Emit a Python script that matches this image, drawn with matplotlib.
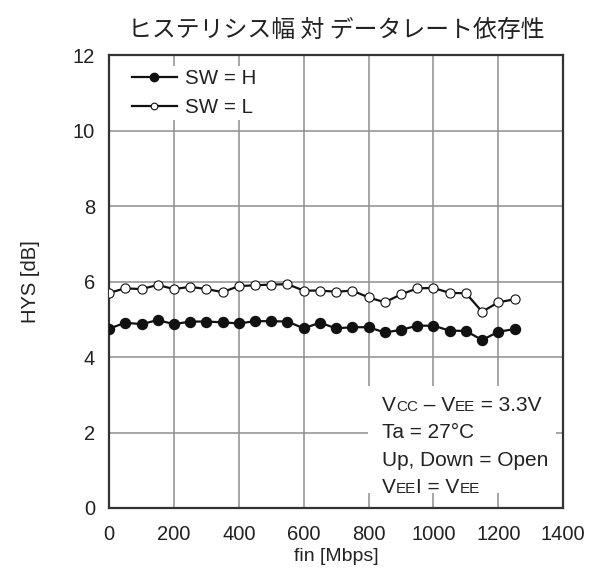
import matplotlib
matplotlib.use("Agg")
import matplotlib.pyplot as plt
from matplotlib.patches import Rectangle
from matplotlib.offsetbox import TextArea, HPacker, VPacker, AnchoredOffsetbox

# data
fin_mbps = [0, 50, 100, 150, 200, 250, 300, 350, 400, 450, 500, 550, 600,
            650, 700, 750, 800, 850, 900, 950, 1000, 1050, 1100, 1150, 1200, 1250]
hys_sw_h = [4.75, 4.91, 4.87, 4.98, 4.87, 4.94, 4.94, 4.92, 4.89, 4.95, 4.95, 4.94, 4.76,
            4.91, 4.76, 4.79, 4.79, 4.65, 4.72, 4.83, 4.83, 4.70, 4.69, 4.45, 4.67, 4.74]
hys_sw_l = [5.70, 5.82, 5.80, 5.91, 5.80, 5.86, 5.80, 5.72, 5.88, 5.90, 5.92, 5.93, 5.76,
            5.76, 5.73, 5.76, 5.58, 5.45, 5.66, 5.82, 5.83, 5.70, 5.69, 5.20, 5.45, 5.53]
x_ticks = [0, 200, 400, 600, 800, 1000, 1200, 1400]
y_ticks = [0, 2, 4, 6, 8, 10, 12]

plt.rcParams['font.family'] = ['Liberation Sans', 'Noto Sans CJK JP', 'DejaVu Sans']
text_col = '#222222'

fig = plt.figure(figsize=(5.96, 5.74), dpi=100)
ax = fig.add_axes([0.183, 0.115, 0.762, 0.789])

ax.plot(fin_mbps, hys_sw_h, color='#111111', lw=1.6, marker='o', ms=7.2,
        mfc='#111111', mec='#111111', label='SW = H', zorder=3)
ax.plot(fin_mbps, hys_sw_l, color='#111111', lw=1.6, marker='o', ms=6.6,
        mfc='white', mec='#111111', mew=0.8, label='SW = L', zorder=3)

ax.set_xlim(0, 1400)
ax.set_ylim(0, 12)
ax.set_xticks(x_ticks)
ax.set_yticks(y_ticks)
ax.tick_params(length=0, labelsize=14.5, labelcolor=text_col)
ax.tick_params(axis='x', pad=12)
ax.tick_params(axis='y', pad=10)
ax.grid(True, color='#8e8e8e', lw=1.1)
ax.set_axisbelow(True)
for s in ax.spines.values():
    s.set_color('#333333')
    s.set_linewidth(1.6)

ax.set_xlabel('fin [Mbps]', fontsize=14, color=text_col, labelpad=3)
ax.set_ylabel('HYS [dB]', fontsize=14.5, color=text_col, labelpad=24)
ax.set_title('ヒステリシス幅 対 データレート依存性', fontsize=17.2, color=text_col,
             family=['Noto Sans CJK JP', 'DejaVu Sans'], pad=13)

leg = ax.legend(loc='upper left', fontsize=14.8, handlelength=2.2, handletextpad=0.4,
                labelspacing=0.5, borderaxespad=0, borderpad=0.15, frameon=True,
                fancybox=False, bbox_to_anchor=(0.043, 0.976))
leg.get_frame().set_facecolor('white')
leg.get_frame().set_edgecolor('none')
leg.get_frame().set_alpha(1)
for t in leg.get_texts():
    t.set_color(text_col)
# smaller markers in the legend, as in the reference
leg.legend_handles[0].set_markersize(6)
leg.legend_handles[1].set_markersize(4.8)

# white panel behind the conditions text (hides the grid there)
ax.add_patch(Rectangle((0.570, 0.033), 0.415, 0.236, transform=ax.transAxes,
                       facecolor='white', edgecolor='none', zorder=1.5))


def line(parts):
    areas = [TextArea(s, textprops=dict(fontsize=fs, color=text_col)) for s, fs in parts]
    return HPacker(children=areas, align='baseline', pad=0, sep=0)


big, small = 15, 11
rows = [
    line([('V', big), ('CC', small), (' – V', big), ('EE', small), (' = 3.3V', big)]),
    line([('Ta = 27°C', big)]),
    line([('Up, Down = Open', big)]),
    line([('V', big), ('EE', small), ('I = V', big), ('EE', small)]),
]
box = VPacker(children=rows, align='left', pad=0, sep=6)
anch = AnchoredOffsetbox(loc='lower left', child=box, pad=0, borderpad=0,
                         frameon=False, bbox_to_anchor=(0.601, 0.024),
                         bbox_transform=ax.transAxes)
anch.set_zorder(2)
ax.add_artist(anch)

fig.savefig('out.png', dpi=100)
